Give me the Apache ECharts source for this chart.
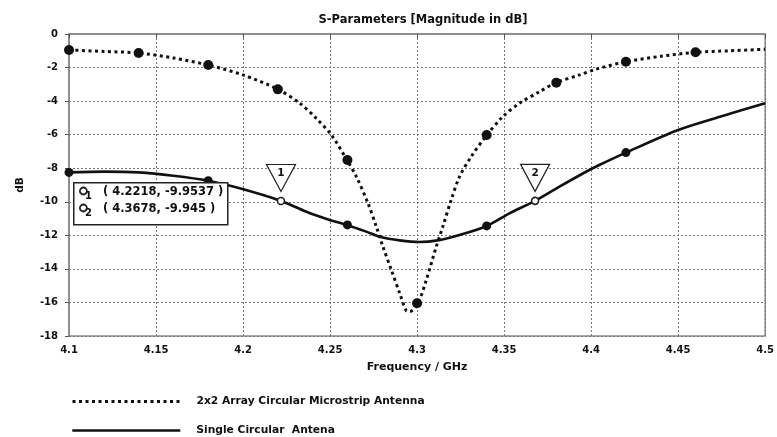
<!DOCTYPE html>
<html>
<head>
<meta charset="utf-8">
<script src="https://cdn.jsdelivr.net/npm/echarts@6/dist/echarts.min.js"></script>
<style>
html,body{margin:0;padding:0;background:#fff;}
#chart{width:777px;height:437px;}
</style>
</head>
<body>
<div id="chart"></div>
<script>
// ---- Data ----
const seriesNames = ['2x2 Array Circular Microstrip Antenna', 'Single Circular  Antena'];

// 2x2 array (dotted) curve
const arrayFreq = [4.10, 4.12, 4.14, 4.16, 4.18, 4.20, 4.2201, 4.2326, 4.2421, 4.2508, 4.2597, 4.2651, 4.2718, 4.2766, 4.2804, 4.2852, 4.29, 4.2938, 4.2957, 4.3005, 4.3053, 4.311, 4.3148, 4.3196, 4.3244, 4.3311, 4.3401, 4.3492, 4.3588, 4.3703, 4.3799, 4.3933, 4.4028, 4.42, 4.44, 4.46, 4.48, 4.50];
const arrayDb   = [-0.95, -1.04, -1.13, -1.43, -1.85, -2.44, -3.3, -4.13, -5.03, -6.02, -7.51, -8.5, -10.09, -11.48, -12.68, -14.06, -15.45, -16.5, -16.55, -16.05, -14.66, -12.68, -11.48, -9.89, -8.5, -7.31, -6.02, -4.93, -4.13, -3.44, -2.9, -2.44, -2.1, -1.65, -1.33, -1.09, -1.0, -0.91];
const arrayMarkFreq = [4.10, 4.14, 4.18, 4.22, 4.26, 4.30, 4.34, 4.38, 4.42, 4.46];
const arrayMarkDb   = [-0.95, -1.13, -1.85, -3.3, -7.51, -16.05, -6.02, -2.9, -1.65, -1.09];

// Single antenna (solid) curve
const singleFreq = [4.10, 4.12, 4.14, 4.16, 4.18, 4.1981, 4.2218, 4.2364, 4.2498, 4.2597, 4.2708, 4.2785, 4.29, 4.3014, 4.3119, 4.3244, 4.3401, 4.3531, 4.3678, 4.3818, 4.3971, 4.4047, 4.42, 4.45, 4.475, 4.50];
const singleDb   = [-8.25, -8.2, -8.25, -8.45, -8.75, -9.2, -9.95, -10.59, -11.08, -11.38, -11.78, -12.08, -12.3, -12.4, -12.3, -11.98, -11.44, -10.69, -9.945, -9.1, -8.21, -7.81, -7.07, -5.72, -4.9, -4.13];
const singleMarkFreq = [4.10, 4.18, 4.26, 4.34, 4.42];
const singleMarkDb   = [-8.25, -8.75, -11.38, -11.44, -7.07];

// Markers 1 and 2
const markerIds  = ['1', '2'];
const markerFreq = [4.2218, 4.3678];
const markerDb   = [-9.9537, -9.945];

// Axis ticks
const xTicks = ['4.1','4.15','4.2','4.25','4.3','4.35','4.4','4.45','4.5'];
const yTicks = ['-18','-16','-14','-12','-10','-8','-6','-4','-2','0'];

// ---- Chart ----
const FONT = '"DejaVu Sans", "Liberation Sans", Arial, sans-serif';
const zip = (a, b) => a.map((v, i) => [v, b[i]]);
const chart = echarts.init(document.getElementById('chart'), null, {renderer: 'canvas'});

const dottedStyle = {color: '#111', width: 3, type: [3, 3.5], cap: 'butt'};
const solidStyle = {color: '#111', width: 2.6, type: 'solid'};
const legendStyles = [dottedStyle, solidStyle];

const option = {
  backgroundColor: '#fff',
  animation: false,
  title: {
    text: 'S-Parameters [Magnitude in dB]',
    left: 418, top: 9, textAlign: 'center',
    textStyle: {fontFamily: FONT, fontWeight: 'bold', fontSize: 11.5, color: '#111'}
  },
  grid: {
    left: 69, right: 11, top: 34, bottom: 101,
    show: true, borderColor: '#8a8a8a', borderWidth: 1.5, backgroundColor: 'transparent'
  },
  xAxis: {
    type: 'value', min: 4.1, max: 4.5, interval: 0.05,
    name: 'Frequency / GHz', nameLocation: 'middle', nameGap: 26,
    nameTextStyle: {fontFamily: FONT, fontWeight: 'bold', fontSize: 11, color: '#111'},
    axisLine: {show: true, lineStyle: {color: '#8a8a8a', width: 1.5}},
    axisTick: {show: true, length: 4, lineStyle: {color: '#555'}},
    axisLabel: {
      fontFamily: FONT, fontWeight: 'bold', fontSize: 10, color: '#111', margin: 9,
      formatter: v => { const s = parseFloat(v.toFixed(2)).toString(); return xTicks.includes(s) ? s : ''; }
    },
    splitLine: {show: true, lineStyle: {color: '#777', type: [2, 2], width: 1}}
  },
  yAxis: {
    type: 'value', min: -18, max: 0, interval: 2,
    name: 'dB', nameLocation: 'middle', nameGap: 43, nameRotate: 90,
    nameTextStyle: {fontFamily: FONT, fontWeight: 'bold', fontSize: 10.5, color: '#111'},
    axisLine: {show: true, lineStyle: {color: '#8a8a8a', width: 1.5}},
    axisTick: {show: true, length: 4, lineStyle: {color: '#555'}},
    axisLabel: {
      fontFamily: FONT, fontWeight: 'bold', fontSize: 10, color: '#111', margin: 11,
      formatter: v => { const s = Math.round(v).toString(); return yTicks.includes(s) ? s : ''; }
    },
    splitLine: {show: true, lineStyle: {color: '#777', type: [2, 2], width: 1}}
  },
  legend: seriesNames.map((name, i) => ({
    orient: 'horizontal', left: 71, top: 396 + i * 29, padding: 0, itemWidth: 108, itemHeight: 10,
    itemStyle: {opacity: 0},
    data: [{name: name, lineStyle: legendStyles[i]}],
    textStyle: {fontFamily: FONT, fontWeight: 'bold', fontSize: 10.7, color: '#111', padding: [0, 0, 0, 11]}
  })),
  series: [
    {
      name: seriesNames[0], type: 'line', data: zip(arrayFreq, arrayDb),
      smooth: 0.3, symbol: 'none', showSymbol: false,
      lineStyle: dottedStyle, itemStyle: {color: '#111'}, z: 3
    },
    {
      name: seriesNames[1], type: 'line', data: zip(singleFreq, singleDb),
      smooth: 0.3, symbol: 'none', showSymbol: false,
      lineStyle: solidStyle, itemStyle: {color: '#111'}, z: 3
    },
    {
      name: 'arrayMarks', type: 'scatter', data: zip(arrayMarkFreq, arrayMarkDb),
      symbol: 'circle', symbolSize: 10, itemStyle: {color: '#111', opacity: 1}, z: 4
    },
    {
      name: 'singleMarks', type: 'scatter', data: zip(singleMarkFreq, singleMarkDb),
      symbol: 'circle', symbolSize: 9, itemStyle: {color: '#111', opacity: 1}, z: 4
    },
    {
      name: 'markers', type: 'scatter', data: zip(markerFreq, markerDb),
      symbol: 'circle', symbolSize: 7,
      itemStyle: {color: '#fff', borderColor: '#222', borderWidth: 1.6, opacity: 1}, z: 6,
      markPoint: {
        symbol: 'path://M0,0L30,0L15,28Z', symbolSize: [29, 27], symbolOffset: [0, -23],
        itemStyle: {color: '#fff', borderColor: '#222', borderWidth: 1.2},
        label: {show: true, position: 'inside', offset: [0, -5], fontFamily: FONT, fontWeight: 'bold', fontSize: 10.5, color: '#111',
          formatter: p => p.name},
        data: markerIds.map((id, i) => ({name: id, coord: [markerFreq[i], markerDb[i]]}))
      }
    }
  ],
  graphic: [
    {type: 'rect', left: 73, top: 182, z: 100,
      shape: {width: 154, height: 42}, style: {fill: '#fff', stroke: '#222', lineWidth: 1.5}},
    ...markerIds.map((id, i) => ({
      type: 'group', left: 79, top: 186 + i * 17, z: 101,
      children: [
        {type: 'circle', shape: {cx: 4.5, cy: 5, r: 3.5}, style: {fill: '#fff', stroke: '#222', lineWidth: 1.8}, z: 101},
        {type: 'text', left: 6, top: 5, style: {text: id, font: 'bold 10px ' + FONT, fill: '#111'}, z: 101},
        {type: 'text', left: 24, top: 0, style: {text: '( ' + markerFreq[i] + ', ' + markerDb[i] + ' )', font: 'bold 11.5px ' + FONT, fill: '#111'}, z: 101}
      ]
    }))
  ]
};
chart.setOption(option);
</script>
</body>
</html>
